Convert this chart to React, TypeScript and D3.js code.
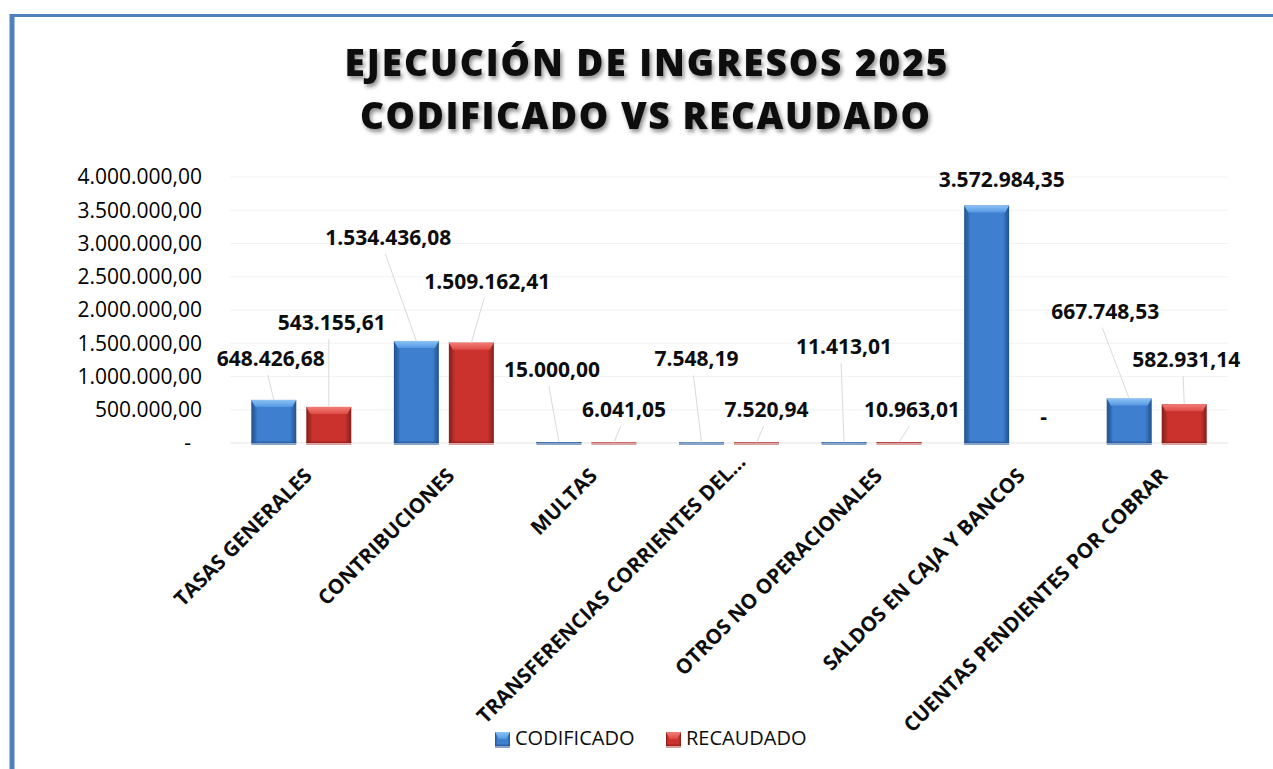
import React from "react";
import * as d3 from "d3";

const categories = [
  "TASAS GENERALES",
  "CONTRIBUCIONES",
  "MULTAS",
  "TRANSFERENCIAS CORRIENTES DEL…",
  "OTROS NO OPERACIONALES",
  "SALDOS EN CAJA Y BANCOS",
  "CUENTAS PENDIENTES POR COBRAR",
];
const seriesNames = ["CODIFICADO", "RECAUDADO"];
const codificado = [648426.68, 1534436.08, 15000.0, 7548.19, 11413.01, 3572984.35, 667748.53];
const recaudado = [543155.61, 1509162.41, 6041.05, 7520.94, 10963.01, 0, 582931.14];
const yTicks = [0, 500000, 1000000, 1500000, 2000000, 2500000, 3000000, 3500000, 4000000];
const titleLines = ["EJECUCIÓN DE INGRESOS 2025", "CODIFICADO VS RECAUDADO"];

// label placement (pixel offsets from bar top-centre), layout only
const labelOffsets = [
  [[-3, -34], [-28, -96], [-7, -65], [-5, -76], [0, -88], [15, -18], [-24, -80]],
  [[3, -77], [16, -54], [10, -26], [10, -25], [13, -25], [2, -19], [2, -37]],
];
const catLabelShift = [[0, 0], [0, 0], [0, 0], [6, -14], [0, 0], [0, 0], [0, 0]];

const W = 1273;
const H = 769;
const FONT = "'Open Sans', 'Noto Sans', sans-serif";

const locale = d3.formatLocale({ decimal: ",", thousands: ".", grouping: [3], currency: ["", ""] });
const fmt = locale.format(",.2f");
const fmtVal = (v: number) => (v === 0 ? "-" : fmt(v));

const palettes = [
  { main: "#3e7fd0", light: "#8cc2f5", mid: "#5598e2", dark: "#24538f", edge: "#2e66ab", foot: "#8aa4c8" },
  { main: "#cb322d", light: "#f27d77", mid: "#de4b45", dark: "#852019", edge: "#a52a24", foot: "#d9a3a1" },
];

function Bar({ x, w, yTop, yBase, s }: { x: number; w: number; yTop: number; yBase: number; s: number }) {
  const h = Math.max(yBase - yTop, 0);
  const side = Math.min(4, w / 4);
  const bt = Math.min(7, h);
  const p = palettes[s];
  return (
    <g>
      <rect x={x} y={yBase - 0.5} width={w} height={2.5} fill={p.foot} />
      {h > 0 && (
        <>
          <rect x={x} y={yTop} width={w} height={h} fill={`url(#body${s})`} />
          <polygon
            points={`${x},${yTop} ${x + w},${yTop} ${x + w - side},${yTop + bt} ${x + side},${yTop + bt}`}
            fill={`url(#top${s})`}
          />
          <rect x={x} y={yBase - Math.min(1.5, h)} width={w} height={Math.min(1.5, h)} fill={p.dark} opacity={0.6} />
        </>
      )}
    </g>
  );
}

export default function App() {
  const x = d3.scaleBand<string>().domain(categories).range([230, 1228]).paddingInner(0).paddingOuter(0);
  const xs = d3
    .scaleBand<string>()
    .domain(seriesNames)
    .range([0, x.bandwidth()])
    .paddingInner(0.1818)
    .paddingOuter(0.387);
  const y = d3.scaleLinear().domain([0, 4000000]).range([443, 177]);
  const series = [codificado, recaudado];
  const yBase = y(0);

  return (
    <svg width={W} height={H} style={{ position: "absolute", left: 0, top: 0, background: "#fff" }}>
      <defs>
        <filter id="tshadow" x="-10%" y="-30%" width="120%" height="160%">
          <feDropShadow dx="2" dy="3" stdDeviation="2" floodColor="#000" floodOpacity="0.45" />
        </filter>
        {palettes.map((p, i) => (
          <React.Fragment key={i}>
            <linearGradient id={`body${i}`} x1="0" x2="1" y1="0" y2="0">
              <stop offset="0%" stopColor={p.dark} />
              <stop offset="8%" stopColor={p.edge} />
              <stop offset="14%" stopColor={p.main} />
              <stop offset="86%" stopColor={p.main} />
              <stop offset="93%" stopColor={p.edge} />
              <stop offset="100%" stopColor={p.dark} />
            </linearGradient>
            <linearGradient id={`top${i}`} x1="0" x2="0" y1="0" y2="1">
              <stop offset="0%" stopColor={p.light} />
              <stop offset="100%" stopColor={p.mid} />
            </linearGradient>
          </React.Fragment>
        ))}
      </defs>

      {/* frame */}
      <line x1={12} x2={W} y1={15.5} y2={15.5} stroke="#4f81bd" strokeWidth={3} />
      <line x1={12} x2={12} y1={14} y2={H} stroke="#4f81bd" strokeWidth={5} />

      {/* title */}
      <g filter="url(#tshadow)" fontFamily={FONT} fontWeight={800} fontSize={37} fill="#0d0d0d" textAnchor="middle">
        <text x={646} y={76} textLength={603} lengthAdjust="spacing">
          {titleLines[0]}
        </text>
        <text x={645} y={129} textLength={570} lengthAdjust="spacing">
          {titleLines[1]}
        </text>
      </g>

      {/* gridlines */}
      {yTicks.map((t) => (
        <line key={t} x1={230} x2={1228} y1={y(t)} y2={y(t)} stroke={t === 0 ? "#e3e3e3" : "#f2f2f2"} strokeWidth={1} />
      ))}

      {/* y tick labels */}
      {yTicks.map((t) => (
        <text
          key={t}
          x={t === 0 ? 191 : 202}
          y={y(t)}
          dy="0.35em"
          textAnchor="end"
          fontFamily={FONT}
          fontSize={21}
          fill="#000"
        >
          {fmtVal(t)}
        </text>
      ))}

      {/* bars */}
      {categories.map((c, i) =>
        series.map((vals, s) => {
          const v = vals[i];
          if (v === 0) return null;
          const bx = (x(c) as number) + (xs(seriesNames[s]) as number);
          return <Bar key={`${i}-${s}`} x={bx} w={xs.bandwidth()} yTop={y(v)} yBase={yBase} s={s} />;
        })
      )}

      {/* leader lines + data labels */}
      {categories.map((c, i) =>
        series.map((vals, s) => {
          const v = vals[i];
          const cx = (x(c) as number) + (xs(seriesNames[s]) as number) + xs.bandwidth() / 2;
          const top = y(v);
          const [dx, dy] = labelOffsets[s][i];
          const lx = cx + dx;
          const ly = top + dy;
          const showLeader = v !== 0 && top - (ly + 9) > 12;
          return (
            <g key={`l${i}-${s}`}>
              {showLeader && <line x1={lx - 3} y1={ly + 9} x2={cx} y2={top} stroke="#dadada" strokeWidth={1} />}
              <text x={lx} y={ly} textAnchor="middle" fontFamily={FONT} fontWeight={700} fontSize={21} fill="#0d0d0d">
                {fmtVal(v)}
              </text>
            </g>
          );
        })
      )}

      {/* category labels */}
      {categories.map((c, i) => {
        const ax = (x(c) as number) + x.bandwidth() / 2 + 12 + catLabelShift[i][0];
        const ay = 477 + catLabelShift[i][1];
        return (
          <text
            key={c}
            transform={`translate(${ax},${ay}) rotate(-45)`}
            textAnchor="end"
            fontFamily={FONT}
            fontWeight={700}
            fontSize={20.5}
            fill="#0d0d0d"
          >
            {c}
          </text>
        );
      })}

      {/* legend */}
      {seriesNames.map((n, s) => {
        const lx = s === 0 ? 495 : 666;
        return (
          <g key={n}>
            <Bar x={lx} w={15} yTop={732} yBase={746} s={s} />
            <text x={lx + 20} y={745} fontFamily={FONT} fontSize={20} fill="#0d0d0d">
              {n}
            </text>
          </g>
        );
      })}
    </svg>
  );
}
